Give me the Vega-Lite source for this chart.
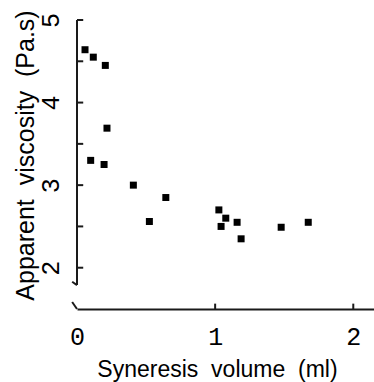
{
  "$schema": "https://vega.github.io/schema/vega-lite/v6.json",
  "autosize": "none",
  "width": 297,
  "height": 289,
  "padding": {"left": 77, "top": 20, "right": 0, "bottom": 73},
  "background": "white",
  "config": {
    "view": {"stroke": null},
    "axis": {
      "grid": false,
      "labelColor": "black",
      "titleColor": "black",
      "labelFont": "Liberation Mono",
      "labelFontSize": 25,
      "labelFontWeight": "normal",
      "titleFont": "Liberation Sans",
      "titleFontWeight": "normal"
    }
  },
  "layer": [
    {
      "data": {
        "values": [
          {"volume": 0.058, "viscosity": 4.64},
          {"volume": 0.118, "viscosity": 4.55},
          {"volume": 0.205, "viscosity": 4.45},
          {"volume": 0.217, "viscosity": 3.69},
          {"volume": 0.099, "viscosity": 3.30},
          {"volume": 0.196, "viscosity": 3.25},
          {"volume": 0.408, "viscosity": 3.00},
          {"volume": 0.643, "viscosity": 2.85},
          {"volume": 0.524, "viscosity": 2.56},
          {"volume": 1.027, "viscosity": 2.70},
          {"volume": 1.077, "viscosity": 2.60},
          {"volume": 1.043, "viscosity": 2.50},
          {"volume": 1.159, "viscosity": 2.55},
          {"volume": 1.188, "viscosity": 2.35},
          {"volume": 1.478, "viscosity": 2.49},
          {"volume": 1.674, "viscosity": 2.55}
        ]
      },
      "mark": {"type": "point", "shape": "square", "filled": true, "size": 49, "color": "black", "opacity": 1},
      "encoding": {
        "x": {
          "field": "volume",
          "type": "quantitative",
          "scale": {"domain": [0, 2.15], "nice": false, "zero": false},
          "axis": {
            "title": "Syneresis\u00a0\u00a0volume\u00a0\u00a0(ml)",
            "titleFontSize": 23,
            "titleX": 140,
            "titleY": 67,
            "titleBaseline": "alphabetic",
            "values": [0, 1, 2],
            "format": "d",
            "domain": true,
            "domainColor": "#1a1a1a",
            "domainWidth": 2,
            "ticks": false,
            "tickSize": 0,
            "labelPadding": 15,
            "labelFlush": false
          }
        },
        "y": {
          "field": "viscosity",
          "type": "quantitative",
          "scale": {"domain": [1.5, 5], "nice": false, "zero": false},
          "axis": {
            "title": "Apparent\u00a0\u00a0viscosity\u00a0\u00a0(Pa.s)",
            "titleFontSize": 25,
            "titleX": -44,
            "titleY": 135,
            "titleBaseline": "alphabetic",
            "values": [2, 3, 4, 5],
            "format": "d",
            "domain": false,
            "ticks": false,
            "tickSize": 0,
            "labelAngle": -90,
            "labelPadding": 14,
            "labelFlush": false
          }
        }
      }
    },
    {
      "data": {"values": [{"part": "y axis line"}]},
      "mark": {"type": "rule", "color": "#1a1a1a", "strokeWidth": 2, "clip": false},
      "encoding": {
        "x": {"datum": 0, "type": "quantitative"},
        "y": {"datum": 1.79, "type": "quantitative"},
        "y2": {"datum": 5}
      }
    },
    {
      "data": {"values": [{"part": "upper break"}]},
      "mark": {"type": "rule", "color": "#1a1a1a", "strokeWidth": 2, "clip": false},
      "encoding": {
        "x": {"datum": -0.035, "type": "quantitative"},
        "x2": {"datum": 0},
        "y": {"datum": 1.83, "type": "quantitative"},
        "y2": {"datum": 1.79}
      }
    },
    {
      "data": {"values": [{"part": "lower break"}]},
      "mark": {"type": "rule", "color": "#1a1a1a", "strokeWidth": 2, "clip": false},
      "encoding": {
        "x": {"datum": -0.035, "type": "quantitative"},
        "x2": {"datum": 0},
        "y": {"datum": 1.585, "type": "quantitative"},
        "y2": {"datum": 1.5}
      }
    },
    {
      "data": {"values": [{"tick": 2}, {"tick": 2.5}, {"tick": 3}, {"tick": 3.5}, {"tick": 4}, {"tick": 4.5}, {"tick": 5}]},
      "mark": {"type": "rule", "color": "#1a1a1a", "strokeWidth": 2, "clip": false},
      "encoding": {
        "x": {"datum": 0, "type": "quantitative"},
        "x2": {"datum": 0.045},
        "y": {"field": "tick", "type": "quantitative"}
      }
    },
    {
      "data": {"values": [{"tick": 1}, {"tick": 2}]},
      "mark": {"type": "rule", "color": "#1a1a1a", "strokeWidth": 2, "clip": false},
      "encoding": {
        "x": {"field": "tick", "type": "quantitative"},
        "y": {"datum": 1.5, "type": "quantitative"},
        "y2": {"datum": 1.565}
      }
    }
  ]
}
